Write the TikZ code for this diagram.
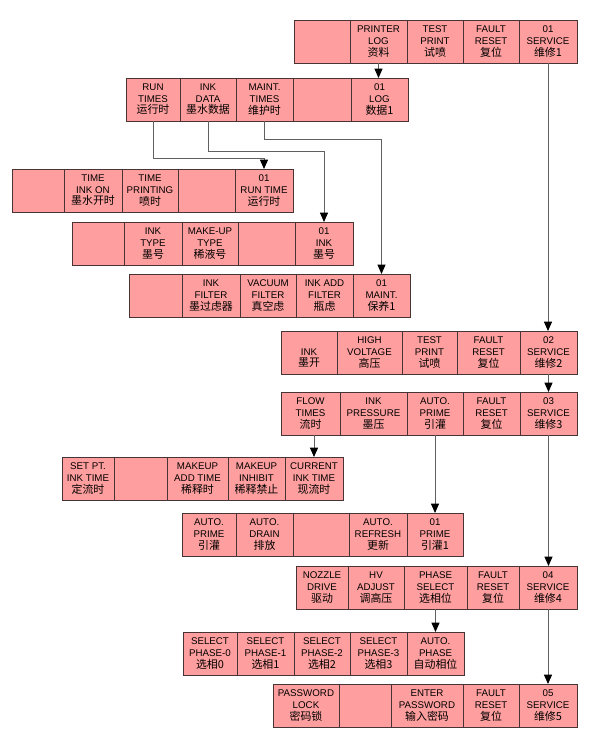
\documentclass[tikz,border=0pt]{standalone}
\usepackage{fontspec}
\setmainfont{Liberation Sans}
\newfontfamily\cjk{Noto Sans CJK SC}
\usepackage{xcolor}
\usepackage{tikz}
\usetikzlibrary{arrows.meta, calc}
\definecolor{cellfill}{RGB}{255,158,158}
\definecolor{cellline}{RGB}{72,52,52}
\definecolor{wirecol}{RGB}{96,96,96}
\newcommand{\zh}[1]{{\cjk\fontsize{8.2}{8.7}\selectfont #1}}
\tikzset{
  cell/.style  = {rectangle, draw=cellline, fill=cellfill, line width=0.75pt,
                  inner sep=0pt, outer sep=0pt, minimum height=32.25pt,
                  align=center, font=\fontsize{7.3}{8.7}\selectfont},
  arrow/.style = {line width=0.75pt, draw=wirecol,
                  -{Triangle[color=black, length=7pt, width=6pt]}},
}
% one menu cell: name, left x, right x, top y, text
\newcommand{\menucell}[5]{%
  \node[cell, minimum width={(#3-#2)*0.75pt}] (#1) at ({(#2+#3)/2},{#4+21.5}) {#5};}

\begin{document}
\begin{tikzpicture}[x=0.75pt, y=-0.75pt]
    \useasboundingbox (0,0) rectangle (590,747);

    % SERVICE 1
    \menucell{svcA1}{294}{350}{20}{}
    \menucell{svcA2}{350}{407}{20}{PRINTER\\LOG\\\zh{资料}}
    \menucell{svcA3}{407}{463}{20}{TEST\\PRINT\\\zh{试喷}}
    \menucell{svcA4}{463}{519}{20}{FAULT\\RESET\\\zh{复位}}
    \menucell{svcA5}{519}{577}{20}{01\\SERVICE\\\zh{维修1}}

    % LOG 1
    \menucell{logA1}{126}{180}{78}{RUN\\TIMES\\\zh{运行时}}
    \menucell{logA2}{180}{236}{78}{INK\\DATA\\\zh{墨水数据}}
    \menucell{logA3}{236}{293}{78}{MAINT.\\TIMES\\\zh{维护时}}
    \menucell{logA4}{293}{351}{78}{}
    \menucell{logA5}{351}{408}{78}{01\\LOG\\\zh{数据1}}

    % RUN TIME
    \menucell{rt1}{12}{64}{169}{}
    \menucell{rt2}{64}{122}{169}{TIME\\INK ON\\\zh{墨水开时}}
    \menucell{rt3}{122}{178}{169}{TIME\\PRINTING\\\zh{喷时}}
    \menucell{rt4}{178}{235}{169}{}
    \menucell{rt5}{235}{293}{169}{01\\RUN TIME\\\zh{运行时}}

    % INK
    \menucell{ink1}{72}{124}{222}{}
    \menucell{ink2}{124}{182}{222}{INK\\TYPE\\\zh{墨号}}
    \menucell{ink3}{182}{238}{222}{MAKE-UP\\TYPE\\\zh{稀液号}}
    \menucell{ink4}{238}{295}{222}{}
    \menucell{ink5}{295}{353}{222}{01\\INK\\\zh{墨号}}

    % MAINT.
    \menucell{mnt1}{129}{182}{274}{}
    \menucell{mnt2}{182}{240}{274}{INK\\FILTER\\\zh{墨过虑器}}
    \menucell{mnt3}{240}{296}{274}{VACUUM\\FILTER\\\zh{真空虑}}
    \menucell{mnt4}{296}{353}{274}{INK ADD\\FILTER\\\zh{瓶虑}}
    \menucell{mnt5}{353}{410}{274}{01\\MAINT.\\\zh{保养1}}

    % SERVICE 2
    \menucell{svcB1}{281}{337}{331}{\phantom{A}\\INK\\\zh{墨开}}
    \menucell{svcB2}{337}{402}{331}{HIGH\\VOLTAGE\\\zh{高压}}
    \menucell{svcB3}{402}{457}{331}{TEST\\PRINT\\\zh{试喷}}
    \menucell{svcB4}{457}{520}{331}{FAULT\\RESET\\\zh{复位}}
    \menucell{svcB5}{520}{577}{331}{02\\SERVICE\\\zh{维修2}}

    % SERVICE 3
    \menucell{svcC1}{281}{340}{392}{FLOW\\TIMES\\\zh{流时}}
    \menucell{svcC2}{340}{407}{392}{INK\\PRESSURE\\\zh{墨压}}
    \menucell{svcC3}{407}{463}{392}{AUTO.\\PRIME\\\zh{引灌}}
    \menucell{svcC4}{463}{520}{392}{FAULT\\RESET\\\zh{复位}}
    \menucell{svcC5}{520}{577}{392}{03\\SERVICE\\\zh{维修3}}

    % CURRENT INK TIME
    \menucell{cur1}{62}{114}{457}{SET PT.\\INK TIME\\\zh{定流时}}
    \menucell{cur2}{114}{167}{457}{}
    \menucell{cur3}{167}{228}{457}{MAKEUP\\ADD TIME\\\zh{稀释时}}
    \menucell{cur4}{228}{285}{457}{MAKEUP\\INHIBIT\\\zh{稀释禁止}}
    \menucell{cur5}{285}{343}{457}{CURRENT\\INK TIME\\\zh{现流时}}

    % PRIME 1
    \menucell{prm1}{182}{236}{513}{AUTO.\\PRIME\\\zh{引灌}}
    \menucell{prm2}{236}{293}{513}{AUTO.\\DRAIN\\\zh{排放}}
    \menucell{prm3}{293}{349}{513}{}
    \menucell{prm4}{349}{407}{513}{AUTO.\\REFRESH\\\zh{更新}}
    \menucell{prm5}{407}{463}{513}{01\\PRIME\\\zh{引灌1}}

    % SERVICE 4
    \menucell{svcD1}{296}{348}{566}{NOZZLE\\DRIVE\\\zh{驱动}}
    \menucell{svcD2}{348}{404}{566}{HV\\ADJUST\\\zh{调高压}}
    \menucell{svcD3}{404}{467}{566}{PHASE\\SELECT\\\zh{选相位}}
    \menucell{svcD4}{467}{519}{566}{FAULT\\RESET\\\zh{复位}}
    \menucell{svcD5}{519}{577}{566}{04\\SERVICE\\\zh{维修4}}

    % PHASE
    \menucell{phs1}{183}{237}{632}{SELECT\\PHASE-0\\\zh{选相0}}
    \menucell{phs2}{237}{294}{632}{SELECT\\PHASE-1\\\zh{选相1}}
    \menucell{phs3}{294}{350}{632}{SELECT\\PHASE-2\\\zh{选相2}}
    \menucell{phs4}{350}{407}{632}{SELECT\\PHASE-3\\\zh{选相3}}
    \menucell{phs5}{407}{464}{632}{AUTO.\\PHASE\\\zh{自动相位}}

    % SERVICE 5
    \menucell{svcE1}{273}{339}{684}{PASSWORD\\LOCK\\\zh{密码锁}}
    \menucell{svcE2}{339}{391}{684}{}
    \menucell{svcE3}{391}{463}{684}{ENTER\\PASSWORD\\\zh{输入密码}}
    \menucell{svcE4}{463}{519}{684}{FAULT\\RESET\\\zh{复位}}
    \menucell{svcE5}{519}{577}{684}{05\\SERVICE\\\zh{维修5}}

    % links
    \draw[arrow] (svcA2.south) -- (svcA2.south |- logA5.north);
    \draw[arrow] (logA1.south) -- ++(0,37) -| (rt5.north);
    \draw[arrow] (logA2.south) -- ++(0,30) -| (ink5.north);
    \draw[arrow] (logA3.south) -- ++(0,18) -| (mnt5.north);
    \draw[arrow] (svcA5.south) -- (svcA5.south |- svcB5.north);
    \draw[arrow] (svcB5.south) -- (svcB5.south |- svcC5.north);
    \draw[arrow] (cur5.north |- svcC1.south) -- (cur5.north);
    \draw[arrow] (svcC3.south) -- (svcC3.south |- prm5.north);
    \draw[arrow] (svcC5.south) -- (svcC5.south |- svcD5.north);
    \draw[arrow] (svcD3.south) -- (svcD3.south |- phs5.north);
    \draw[arrow] (svcD5.south) -- (svcD5.south |- svcE5.north);

  \end{tikzpicture}
\end{document}
